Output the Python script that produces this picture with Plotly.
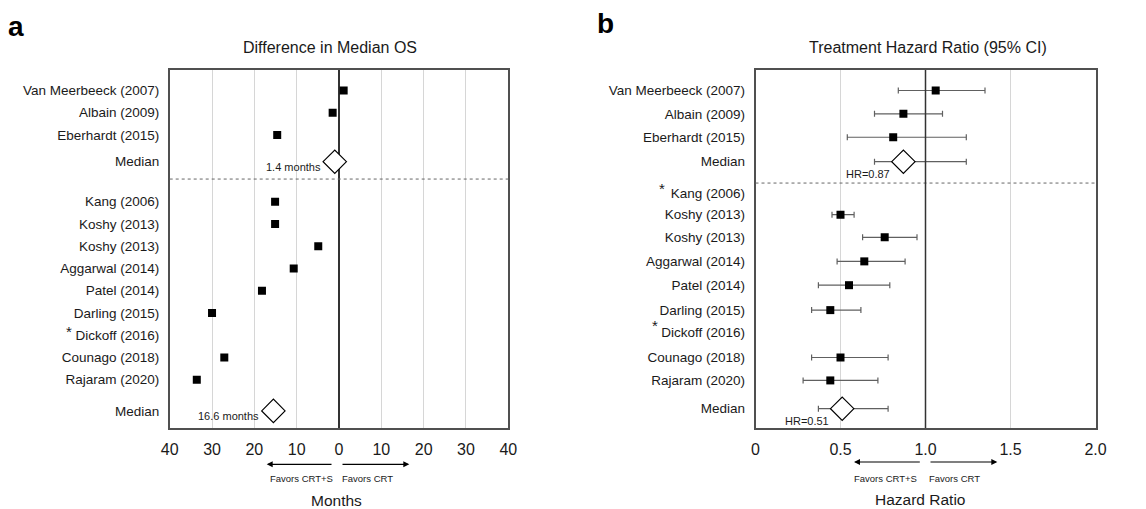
import plotly.graph_objects as go

# the page body adds an 8px margin at top-left
OFF = 8
W, H = 1146 - OFF, 509 - OFF
TOP, BOT = 70, 428          # target box edges in window pixels

# ---------------- data ----------------
studies = ["Van Meerbeeck (2007)", "Albain (2009)", "Eberhardt (2015)",
           "Kang (2006)", "Koshy (2013)", "Koshy (2013)", "Aggarwal (2014)",
           "Patel (2014)", "Darling (2015)", "Dickoff (2016)",
           "Counago (2018)", "Rajaram (2020)"]
# difference in median OS (months); negative = favors CRT+S
os_diff = [1.1, -1.5, -14.6, -15.1, -15.1, -4.9, -10.7, -18.2, -30.0, None, -27.1, -33.6]
os_median = [-1.0, -15.5]
os_median_text = ["1.4 months", "16.6 months"]

hr = [1.06, 0.87, 0.81, None, 0.50, 0.76, 0.64, 0.55, 0.44, None, 0.50, 0.44]
hr_lo = [0.84, 0.70, 0.54, None, 0.45, 0.63, 0.48, 0.37, 0.33, None, 0.33, 0.28]
hr_hi = [1.35, 1.10, 1.24, None, 0.58, 0.95, 0.88, 0.79, 0.62, None, 0.78, 0.72]
hr_median = [0.87, 0.51]
hr_median_lo = [0.70, 0.37]
hr_median_hi = [1.24, 0.78]
hr_median_text = ["HR=0.87", "HR=0.51"]

os_ticks = [-40, -30, -20, -10, 0, 10, 20, 30, 40]
os_ticktext = ["40", "30", "20", "10", "0", "10", "20", "30", "40"]
hr_ticks = [0, 0.5, 1.0, 1.5, 2.0]
hr_ticktext = ["0", "0.5", "1.0", "1.5", "2.0"]

# ---------------- layout helpers (row positions) ----------------
rows_a = [0, 1, 2, 5, 6, 7, 8, 9, 10, 11, 12, 13]
med_rows_a = [3.2, 14.4]
rows_b = [0.0, 1.05, 2.1, 4.6, 5.58, 6.6, 7.68, 8.75, 9.87, 10.85, 12.0, 13.03]
med_rows_b = [3.2, 14.3]
sep_a, sep_b = 3.98, 4.16

FONT = "Liberation Sans, Arial, Helvetica, sans-serif"
TXT = "#1a1a1a"

def fx(x):   # window px -> figure fraction (x)
    return (x - OFF) / W

def px(x):
    return fx(x)

def py(y):   # window px -> paper fraction (y), paper = plot area
    return (BOT - y) / (BOT - TOP)

fig = go.Figure()

# ---- panel a ----
xa = [v for v in os_diff if v is not None]
ya = [r for v, r in zip(os_diff, rows_a) if v is not None]
fig.add_trace(go.Scatter(x=xa, y=ya, mode="markers", xaxis="x", yaxis="y",
                         marker=dict(symbol="square", size=8, color="black"),
                         showlegend=False, hoverinfo="skip"))
fig.add_trace(go.Scatter(x=os_median, y=med_rows_a, mode="markers", xaxis="x", yaxis="y",
                         marker=dict(symbol="diamond", size=18, color="white",
                                     line=dict(color="black", width=1.2)),
                         showlegend=False, hoverinfo="skip"))

# ---- panel b ----
idx = [i for i, v in enumerate(hr) if v is not None]
fig.add_trace(go.Scatter(
    x=[hr[i] for i in idx], y=[rows_b[i] for i in idx], mode="markers",
    xaxis="x2", yaxis="y2",
    error_x=dict(type="data", symmetric=False,
                 array=[hr_hi[i] - hr[i] for i in idx],
                 arrayminus=[hr[i] - hr_lo[i] for i in idx],
                 color="#606060", thickness=1.2, width=3),
    marker=dict(symbol="square", size=8, color="black"),
    showlegend=False, hoverinfo="skip"))
fig.add_trace(go.Scatter(
    x=hr_median, y=med_rows_b, mode="markers", xaxis="x2", yaxis="y2",
    error_x=dict(type="data", symmetric=False,
                 array=[h - m for h, m in zip(hr_median_hi, hr_median)],
                 arrayminus=[m - l for m, l in zip(hr_median, hr_median_lo)],
                 color="#606060", thickness=1.2, width=3),
    marker=dict(symbol="diamond", size=18, color="white",
                line=dict(color="black", width=1.2)),
    showlegend=False, hoverinfo="skip"))

yrange = [(BOT - 90.5) / 22.25, (TOP - 90.5) / 22.25]

ytick_a = rows_a + med_rows_a
ylab = studies + ["Median", "Median"]
ytick_b = rows_b + med_rows_b

axis_common = dict(showline=True, mirror=True, linecolor="#505050", linewidth=1.5,
                   ticks="outside", tickcolor="rgba(0,0,0,0)",
                   tickfont=dict(family=FONT, size=16, color=TXT),
                   gridcolor="#d6d6d6", gridwidth=1, zeroline=False, fixedrange=True,
                   automargin=False)
ylab_font = dict(family=FONT, size=13.5, color=TXT)

fig.update_layout(
    width=W, height=H,
    margin=dict(l=0, r=0, t=TOP - OFF, b=(H + OFF) - BOT),
    paper_bgcolor="white", plot_bgcolor="white",
    xaxis=dict(domain=[fx(169.7), fx(508.3)], range=[-40, 40],
               tickvals=os_ticks, ticktext=os_ticktext, ticklen=6,
               anchor="y", zeroline=True, zerolinecolor="#333333", zerolinewidth=1.5,
               **{k: v for k, v in axis_common.items() if k != "zeroline"}),
    yaxis=dict(domain=[0, 1], range=yrange, tickvals=ytick_a, ticktext=ylab,
               ticklen=6, showgrid=False, anchor="x",
               **{**axis_common, "tickfont": ylab_font}),
    xaxis2=dict(domain=[fx(755.5), fx(1095.5)], range=[0, 2],
                tickvals=hr_ticks, ticktext=hr_ticktext, ticklen=6, anchor="y2",
                **axis_common),
    yaxis2=dict(domain=[0, 1], range=yrange, tickvals=ytick_b, ticktext=ylab,
                ticklen=6, showgrid=False, anchor="x2",
                **{**axis_common, "tickfont": ylab_font}),
)

shapes = []
# separators (dotted)
shapes.append(dict(type="line", xref="x domain", yref="y", x0=0, x1=1, y0=sep_a, y1=sep_a,
                   line=dict(color="#666666", width=1, dash="dot")))
shapes.append(dict(type="line", xref="x2 domain", yref="y2", x0=0, x1=1, y0=sep_b, y1=sep_b,
                   line=dict(color="#666666", width=1, dash="dot")))
# HR = 1 reference line
shapes.append(dict(type="line", xref="x2", yref="y2 domain", x0=1, x1=1, y0=0, y1=1,
                   line=dict(color="#333333", width=1.5), layer="above"))
fig.update_layout(shapes=shapes)

ann = []
def text(x, y, s, size, **kw):
    d = dict(x=px(x), y=py(y), xref="paper", yref="paper", text=s, showarrow=False,
             font=dict(family=FONT, size=size, color=kw.pop("color", TXT)),
             xanchor=kw.pop("xanchor", "center"), yanchor=kw.pop("yanchor", "middle"))
    d.update(kw)
    ann.append(d)

text(16, 26, "<b>a</b>", 28, color="black")
text(605, 24, "<b>b</b>", 28, color="black")
text(330, 47, "Difference in Median OS", 16)
text(928, 47, "Treatment Hazard Ratio (95% CI)", 16)
text(336.7, 500.7, "Months", 15.5)
text(920, 499.3, "Hazard Ratio", 15.5)
text(301.7, 478.3, "Favors CRT+S", 9.5)
text(367, 478.3, "Favors CRT", 9.5)
text(885.5, 478.3, "Favors CRT+S", 9.5)
text(954, 478.3, "Favors CRT", 9.5)
# asterisks
text(69, 331, "*", 15)
text(662, 188, "*", 15)
text(655, 325, "*", 15)

# median labels
for m, r, s in zip(os_median, med_rows_a, os_median_text):
    ann.append(dict(x=m, y=r, xref="x", yref="y", text=s, showarrow=False,
                    xanchor="right", yanchor="middle", xshift=-12, yshift=-5,
                    font=dict(family=FONT, size=11, color=TXT)))
for m, r, s in zip(hr_median, med_rows_b, hr_median_text):
    ann.append(dict(x=m, y=r, xref="x2", yref="y2", text=s, showarrow=False,
                    xanchor="right", yanchor="middle", xshift=-11, yshift=-12,
                    font=dict(family=FONT, size=11, color=TXT)))

# arrows
def arrow(head, tail, y):
    ann.append(dict(x=px(head), y=py(y), xref="paper", yref="paper",
                    ax=tail - head, ay=0, axref="pixel", ayref="pixel",
                    text="", showarrow=True, arrowhead=2, arrowsize=1,
                    arrowwidth=1.2, arrowcolor="black"))

arrow(266.7, 333, 464.3)
arrow(409.3, 341, 464.3)
arrow(854, 921.3, 462)
arrow(997.3, 929, 462)

fig.update_layout(annotations=ann)

fig.write_html("out.html")
